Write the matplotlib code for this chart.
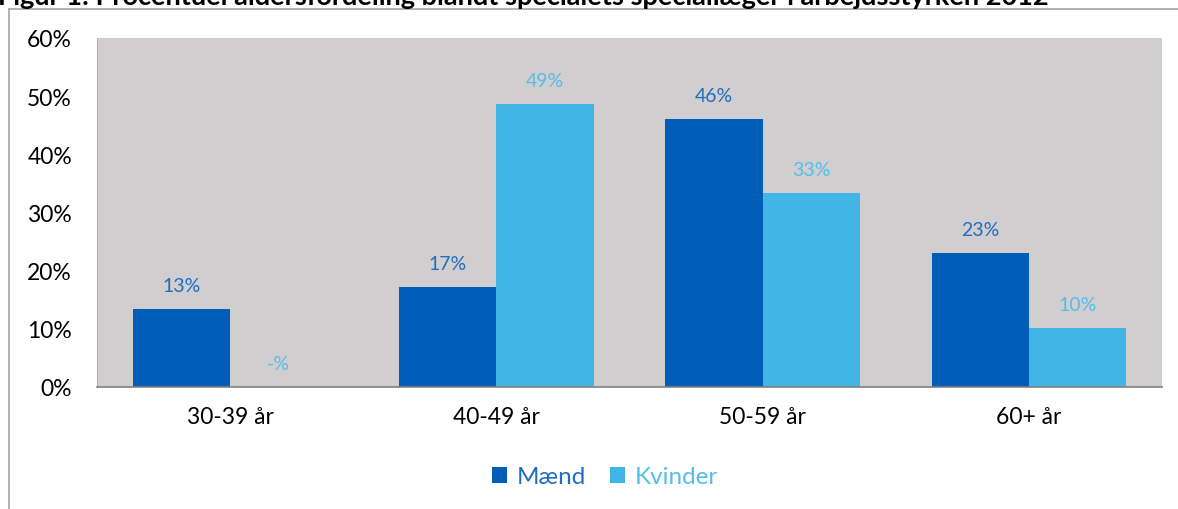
import matplotlib
matplotlib.use("Agg")
import matplotlib.pyplot as plt
import numpy as np

plt.rcParams['font.family'] = ['Lato', 'DejaVu Sans']

categories = ['30-39 år', '40-49 år', '50-59 år', '60+ år']
maend = [13.4, 17.2, 46.1, 23.1]
kvinder = [0.0, 48.7, 33.4, 10.2]
maend_labels = ['13%', '17%', '46%', '23%']
kvinder_labels = ['-%', '49%', '33%', '10%']
yticks = [0, 10, 20, 30, 40, 50, 60]
title = 'Figur 1: Procentuel aldersfordeling blandt specialets speciallæger i arbejdsstyrken 2012'

c_m = '#005EB8'
c_k = '#41B6E6'
c_m_txt = '#1F6EC2'
c_k_txt = '#55BDEA'

W, H = 1178, 510
fig = plt.figure(figsize=(W / 100, H / 100), dpi=100)
fig.patch.set_facecolor('white')

# outer frame (top and left only visible)
fig.add_artist(plt.Line2D([9 / W, 1], [1 - 10 / H, 1 - 10 / H], color='#A6A6A6', lw=1.2))
fig.add_artist(plt.Line2D([9 / W, 9 / W], [0, 1 - 10 / H], color='#A6A6A6', lw=1.2))

# title, mostly cut off at the top
fig.text(-2 / W, 1 - 5 / H, title, ha='left', va='baseline', fontsize=19.5, fontweight='bold', color='black')

ax = fig.add_axes([97 / W, (H - 388) / H, (1162 - 97) / W, (388 - 39) / H])
ax.set_facecolor('#D0CECF')

x = np.arange(len(categories))
w = 0.365
b1 = ax.bar(x - w / 2, maend, w, color=c_m, label='Mænd', zorder=2)
b2 = ax.bar(x + w / 2, kvinder, w, color=c_k, label='Kvinder', zorder=2)

for i in range(len(categories)):
    ax.annotate(maend_labels[i], (x[i] - w / 2, maend[i]), xytext=(0, 17), textcoords='offset points',
                ha='center', va='center', color=c_m_txt, fontsize=14)
    ax.annotate(kvinder_labels[i], (x[i] + w / 2, kvinder[i]), xytext=(0, 17), textcoords='offset points',
                ha='center', va='center', color=c_k_txt, fontsize=14)

ax.set_xlim(-0.5, len(categories) - 0.5)
ax.set_ylim(0, 60)
ax.set_yticks(yticks)
ax.set_yticklabels([f'{v}%' for v in yticks])
ax.set_xticks(x)
ax.set_xticklabels(categories)
ax.tick_params(axis='both', length=0, labelsize=16.5, colors='black')
ax.tick_params(axis='y', pad=18)
ax.tick_params(axis='x', pad=14)

for s in ['top', 'right']:
    ax.spines[s].set_visible(False)
ax.spines['left'].set_color('#B0B0B0')
ax.spines['left'].set_linewidth(0.8)
ax.spines['bottom'].set_color('#808080')
ax.spines['bottom'].set_linewidth(1.2)

leg = fig.legend(handles=[b1, b2], loc='center', bbox_to_anchor=(605 / W, 1 - 478 / H), ncol=2, frameon=False,
                 fontsize=17.5, handlelength=0.6, handleheight=0.6, handletextpad=0.4, columnspacing=1.0)
for t, c in zip(leg.get_texts(), [c_m_txt, c_k_txt]):
    t.set_color(c)

fig.savefig('out.png', dpi=100, facecolor='white')
